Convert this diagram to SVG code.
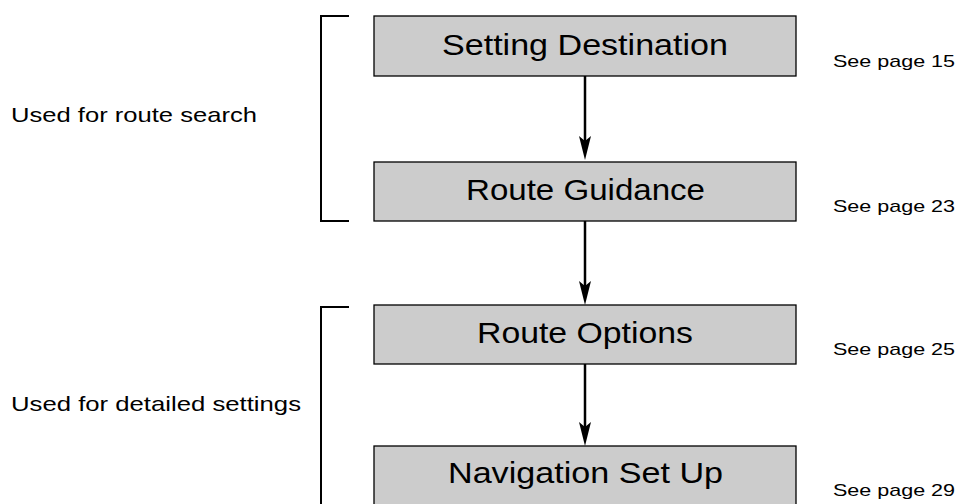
<svg xmlns="http://www.w3.org/2000/svg" width="959" height="504" viewBox="0 0 959 504">
<defs>
<marker id="ah" markerUnits="userSpaceOnUse" markerWidth="24" markerHeight="12" refX="12" refY="6" orient="auto" viewBox="0 0 24 12">
<path d="M0,0 L24,6 L0,12 L5,6 Z" fill="#000"/>
</marker>
<style>
.box{fill:#cccccc;stroke:#000;stroke-width:1.3}
.t{font-family:"Liberation Sans",Arial,sans-serif;font-size:29px;fill:#000}
.p{font-family:"Liberation Sans",Arial,sans-serif;font-size:17px;fill:#000}
.l{font-family:"Liberation Sans",Arial,sans-serif;font-size:21px;fill:#000}
.br{fill:none;stroke:#000;stroke-width:2}
.c{stroke:#000;stroke-width:2.5;fill:none}
</style>
</defs>
<rect width="959" height="504" fill="#fff"/>
<g id="bracket1"><path class="br" d="M349,16 H321 V221 H349"/><text class="l" x="11" y="122" textLength="246" lengthAdjust="spacingAndGlyphs">Used for route search</text></g>
<g id="bracket2"><path class="br" d="M349,307 H321 V504"/><text class="l" x="11" y="411" textLength="290" lengthAdjust="spacingAndGlyphs">Used for detailed settings</text></g>
<g id="n1"><rect class="box" x="374" y="16" width="422" height="60"/><text class="t" x="442" y="55" textLength="286" lengthAdjust="spacingAndGlyphs">Setting Destination</text><text class="p" x="833" y="67" textLength="122" lengthAdjust="spacingAndGlyphs">See page 15</text></g>
<g id="n2"><rect class="box" x="374" y="162" width="422" height="59"/><text class="t" x="466" y="200" textLength="239" lengthAdjust="spacingAndGlyphs">Route Guidance</text><text class="p" x="833" y="212" textLength="122" lengthAdjust="spacingAndGlyphs">See page 23</text></g>
<g id="n3"><rect class="box" x="374" y="305" width="422" height="59"/><text class="t" x="477" y="343" textLength="216" lengthAdjust="spacingAndGlyphs">Route Options</text><text class="p" x="833" y="355" textLength="122" lengthAdjust="spacingAndGlyphs">See page 25</text></g>
<g id="n4"><rect class="box" x="374" y="446" width="422" height="70"/><text class="t" x="448" y="483" textLength="275" lengthAdjust="spacingAndGlyphs">Navigation Set Up</text><text class="p" x="833" y="496" textLength="122" lengthAdjust="spacingAndGlyphs">See page 29</text></g>
<g id="connectors">
<line class="c" x1="585" y1="76" x2="585" y2="148" marker-end="url(#ah)"/>
<line class="c" x1="585" y1="221" x2="585" y2="293" marker-end="url(#ah)"/>
<line class="c" x1="585" y1="364" x2="585" y2="434" marker-end="url(#ah)"/>
</g>
</svg>
